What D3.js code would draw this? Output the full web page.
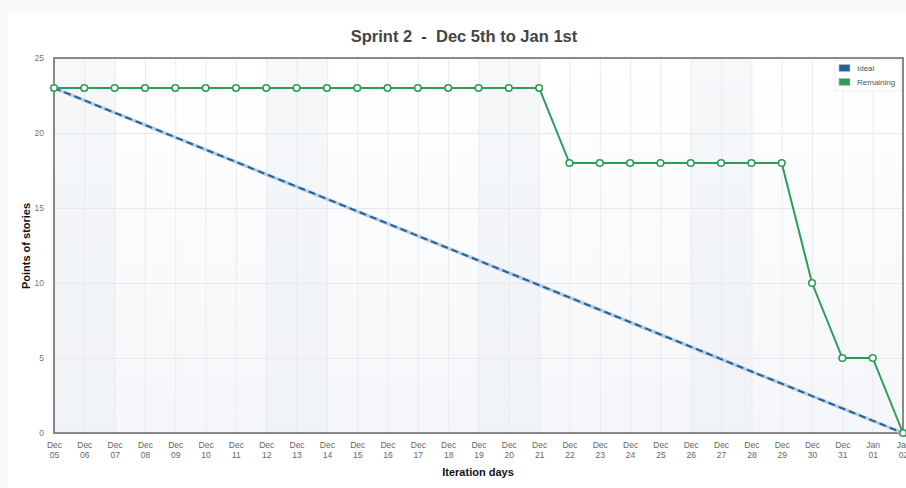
<!DOCTYPE html>
<html><head><meta charset="utf-8">
<script src="https://cdn.jsdelivr.net/npm/d3@7"></script>
<style>
html,body{margin:0;padding:0;background:#fafafa;}
svg{display:block;font-family:"Liberation Sans",Arial,sans-serif;}
</style></head>
<body><svg id="c" width="906" height="488"></svg>
<script>
const days = ["Dec 05","Dec 06","Dec 07","Dec 08","Dec 09","Dec 10","Dec 11","Dec 12","Dec 13","Dec 14","Dec 15","Dec 16","Dec 17","Dec 18","Dec 19","Dec 20","Dec 21","Dec 22","Dec 23","Dec 24","Dec 25","Dec 26","Dec 27","Dec 28","Dec 29","Dec 30","Dec 31","Jan 01","Jan 02"];
const remaining = [23,23,23,23,23,23,23,23,23,23,23,23,23,23,23,23,23,18,18,18,18,18,18,18,18,10,5,5,0];
const idealDays = ["Dec 05","Jan 02"];
const idealValues = [23,0];
const bandStarts = ["Dec 05","Dec 12","Dec 19","Dec 26"];
const bandEnds = ["Dec 07","Dec 14","Dec 21","Dec 28"];
const yTicks = [0,5,10,15,20,25];
const legendLabels = ["Ideal","Remaining"];

const svg = d3.select("#c");
const W=906,H=488;
const m={l:54,t:58,r:3,b:55};
svg.append("rect").attr("x",8).attr("y",12).attr("width",W-8).attr("height",H-12).attr("fill","#fff");

const x = d3.scalePoint().domain(days).range([m.l, W-m.r]);
const y = d3.scaleLinear().domain([0,25]).range([H-m.b, m.t]);

const defs = svg.append("defs");
const g = defs.append("linearGradient").attr("id","bg").attr("x1",0).attr("y1",0).attr("x2",0).attr("y2",1);
g.append("stop").attr("offset","0%").attr("stop-color","#ffffff");
g.append("stop").attr("offset","100%").attr("stop-color","#f5f6f9");

svg.append("rect").attr("x",m.l).attr("y",m.t).attr("width",W-m.r-m.l).attr("height",H-m.b-m.t).attr("fill","url(#bg)");

// bands
svg.append("g").selectAll("rect").data(bandStarts).join("rect")
  .attr("x",(d)=>x(d)).attr("y",m.t)
  .attr("width",(d,i)=>x(bandEnds[i])-x(d)).attr("height",H-m.b-m.t)
  .attr("fill","#e6eaf1").attr("opacity",0.35);

// grid
svg.append("g").attr("transform",`translate(0,${H-m.b})`)
  .call(d3.axisBottom(x).tickSize(-(H-m.b-m.t)).tickFormat(""))
  .call(a=>{a.select(".domain").remove();a.selectAll("line").attr("stroke","#e9ebef").attr("stroke-width",1);});
svg.append("g").attr("transform",`translate(${m.l},0)`)
  .call(d3.axisLeft(y).tickValues(yTicks).tickSize(-(W-m.r-m.l)).tickFormat(""))
  .call(a=>{a.select(".domain").remove();a.selectAll("line").attr("stroke","#e6e8ec").attr("stroke-width",1);});

// x labels
const xl = svg.append("g").attr("transform",`translate(0,${H-m.b})`)
  .call(d3.axisBottom(x).tickSize(0).tickFormat(""));
xl.select(".domain").remove();
xl.selectAll(".tick").each(function(d){
  const t=d3.select(this).append("text").attr("fill","#666").attr("font-size",8.5).attr("text-anchor","middle");
  const p=d.split(" ");
  t.append("tspan").attr("x",0).attr("y",15).text(p[0]);
  t.append("tspan").attr("x",0).attr("y",25).text(p[1]);
});
// y labels
const yl = svg.append("g").attr("transform",`translate(${m.l},0)`)
  .call(d3.axisLeft(y).tickValues(yTicks).tickSize(0).tickPadding(10));
yl.select(".domain").remove();
yl.selectAll("text").attr("fill","#777").attr("font-size",8.5).attr("font-family","Liberation Sans, Arial, sans-serif");

// border
svg.append("rect").attr("x",m.l).attr("y",m.t).attr("width",W-m.r-m.l).attr("height",H-m.b-m.t)
  .attr("fill","none").attr("stroke","#707070").attr("stroke-width",1.6);

// ideal line
const il = d3.line().x((d,i)=>x(idealDays[i])).y(d=>y(d));
svg.append("path").attr("d",il(idealValues)).attr("fill","none").attr("stroke","#b8cde2").attr("stroke-width",3.5);
svg.append("path").attr("d",il(idealValues)).attr("fill","none").attr("stroke","#22629a").attr("stroke-width",2).attr("stroke-dasharray","7,4");

// remaining
const rl = d3.line().x((d,i)=>x(days[i])).y(d=>y(d));
svg.append("path").attr("d",rl(remaining)).attr("fill","none").attr("stroke","#2e9c58").attr("stroke-width",2);
svg.append("g").selectAll("circle").data(remaining).join("circle")
  .attr("cx",(d,i)=>x(days[i])).attr("cy",d=>y(d)).attr("r",3.3)
  .attr("fill","#fff").attr("stroke","#2e9c58").attr("stroke-width",1.6);

// titles
svg.append("text").attr("x",464).attr("y",42).attr("text-anchor","middle").attr("font-size",16.5).attr("font-weight","bold").attr("fill","#444")
  .attr("xml:space","preserve").text("Sprint 2  -  Dec 5th to Jan 1st");
svg.append("text").attr("x",478).attr("y",476).attr("text-anchor","middle").attr("font-size",11).attr("font-weight","bold").attr("fill","#111").text("Iteration days");
svg.append("text").attr("transform","translate(30,246) rotate(-90)").attr("text-anchor","middle").attr("font-size",11).attr("font-weight","bold").attr("fill","#111").text("Points of stories");

// legend
const lg = svg.append("g");
lg.append("rect").attr("x",835).attr("y",60).attr("width",66).attr("height",31).attr("fill","#fff").attr("stroke","#eee").attr("opacity",0.9);
const colors=["#22629a","#2e9c58"];
legendLabels.forEach((l,i)=>{
  lg.append("rect").attr("x",839).attr("y",64.5+i*14).attr("width",11).attr("height",7).attr("fill",colors[i]).attr("stroke","#bbb").attr("stroke-width",0.7);
  lg.append("text").attr("x",857).attr("y",71+i*14).attr("font-size",8).attr("fill","#555").text(l);
});
</script></body></html>
